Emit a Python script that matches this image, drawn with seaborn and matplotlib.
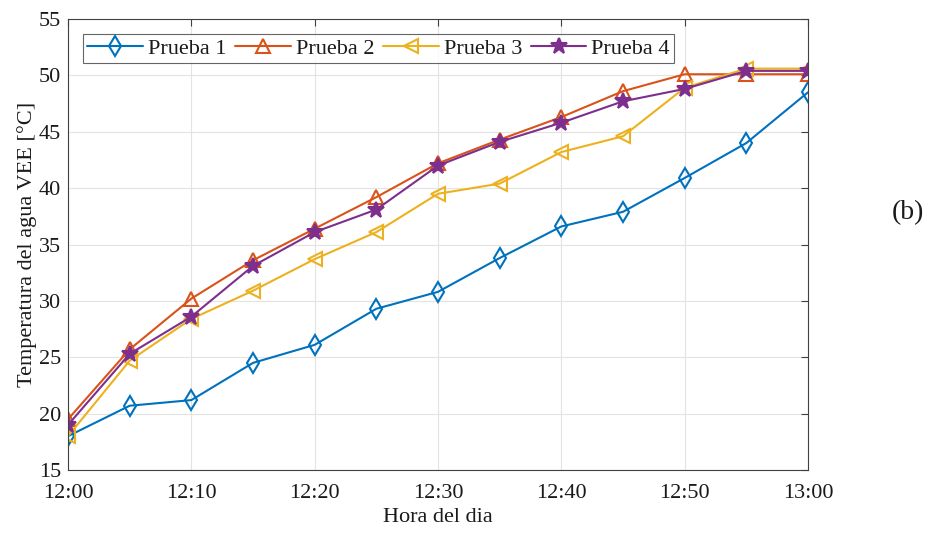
import matplotlib
matplotlib.use("Agg")
import matplotlib.pyplot as plt
import seaborn as sns
import pandas as pd

minutes = [0, 5, 10, 15, 20, 25, 30, 35, 40, 45, 50, 55, 60]
tick_labels = ["12:00", "12:10", "12:20", "12:30", "12:40", "12:50", "13:00"]
prueba1 = [18.0, 20.7, 21.2, 24.5, 26.1, 29.3, 30.8, 33.8, 36.6, 37.9, 40.9, 44.0, 48.5]
prueba2 = [19.5, 25.7, 30.2, 33.6, 36.4, 39.2, 42.2, 44.3, 46.3, 48.6, 50.1, 50.1, 50.1]
prueba3 = [18.0, 24.7, 28.4, 30.9, 33.7, 36.1, 39.5, 40.4, 43.2, 44.6, 48.9, 50.6, 50.6]
prueba4 = [19.0, 25.3, 28.6, 33.1, 36.1, 38.1, 42.0, 44.1, 45.8, 47.7, 48.8, 50.4, 50.4]
names = ["Prueba 1", "Prueba 2", "Prueba 3", "Prueba 4"]

sns.set_theme(style="white")
plt.rcParams["font.family"] = ["Liberation Serif", "DejaVu Serif"]

colors = ["#0072BD", "#D95319", "#EDB120", "#7E2F8E"]
markers = ["d", "^", "<", "*"]
msizes = [10, 10.5, 10.5, 12]

fig = plt.figure(figsize=(9.47, 5.36), dpi=100)
ax = fig.add_axes([68/947, 1-470/536, 740/947, 451/536])

series = [prueba1, prueba2, prueba3, prueba4]
for name, vals, c, m, ms in zip(names, series, colors, markers, msizes):
    df = pd.DataFrame({"t": minutes, "v": vals})
    face = c if m == "*" else "none"
    sns.lineplot(data=df, x="t", y="v", ax=ax, color=c, marker=m, markersize=ms,
                 markerfacecolor=face, markeredgecolor=c, markeredgewidth=1.5,
                 linewidth=1.5, label=name)

ax.set_xlim(0, 60)
ax.set_ylim(15, 55)
ax.set_xticks(range(0, 61, 10))
ax.set_xticklabels(tick_labels)
ax.set_yticks(range(15, 56, 5))
ax.grid(True, color="#e3e3e3", linewidth=0.8)
ax.tick_params(direction="in", length=5, labelsize=16, top=True, right=True,
               colors="#404040", labelcolor="#1a1a1a", width=0.8)
ax.tick_params(axis="x", pad=10)
ax.tick_params(axis="y", pad=5)
for s in ax.spines.values():
    s.set_color("#404040")
    s.set_linewidth(0.8)
ax.set_xlabel("Hora del dia", fontsize=16, labelpad=4, color="#1a1a1a")
ax.set_ylabel("Temperatura del agua VEE [°C]", fontsize=16, labelpad=1, color="#1a1a1a")

leg = ax.legend(loc="upper left", ncol=4, fontsize=16, frameon=True, fancybox=False,
                edgecolor="#404040", handlelength=2.5, handletextpad=0.22,
                columnspacing=0.4, borderpad=0.2, borderaxespad=0.0,
                bbox_to_anchor=(15/740, 1-15/451))
leg.get_frame().set_linewidth(0.8)
for t in leg.get_texts():
    t.set_color("#1a1a1a")

fig.text(908/947, 1-213/536, "(b)", fontsize=20, ha="center", va="center", color="#1a1a1a")

fig.savefig("out.png", dpi=100, facecolor="white")
